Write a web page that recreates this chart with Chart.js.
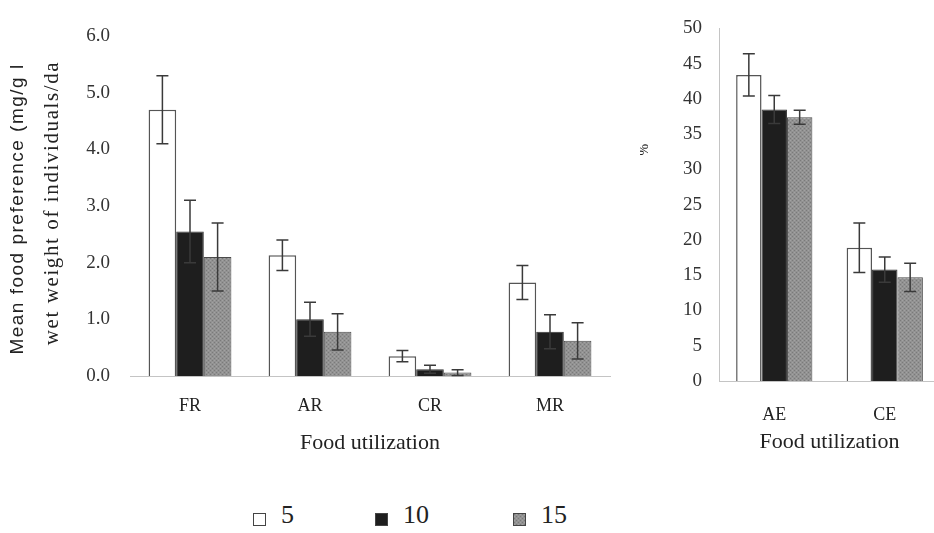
<!DOCTYPE html>
<html>
<head>
<meta charset="utf-8">
<script src="https://cdn.jsdelivr.net/npm/chart.js@4.4.0/dist/chart.umd.min.js"></script>
<style>
  body { margin: 0; background: #fff; overflow: hidden; }
  #wrap { position: relative; width: 934px; height: 533px; overflow: hidden; background: #fff; }
  #left { position: absolute; left: 0; top: 0; }
  #right { position: absolute; left: 640px; top: 0; }
  .legend { position: absolute; top: 500px; font-family: "Liberation Serif", "Times New Roman", serif; font-size: 26px; color: #222; white-space: nowrap; }
  .box { display: inline-block; width: 11px; height: 11px; border: 1px solid #444; margin-right: 15px; vertical-align: -3px; }
</style>
</head>
<body>
<div id="wrap">
  <canvas id="left" width="640" height="470"></canvas>
  <canvas id="right" width="300" height="470"></canvas>
  <div class="legend" style="left:253px"><span class="box" style="background:#fff"></span>5</div>
  <div class="legend" style="left:375px"><span class="box" style="background:#1e1e1e"></span>10</div>
  <div class="legend" style="left:513px"><span class="box" id="box15"></span>15</div>
</div>
<script>
// food preference, left panel
const prefCategories = ['FR', 'AR', 'CR', 'MR'];
const pref5 = [4.7, 2.13, 0.35, 1.65];
const pref10 = [2.55, 1.0, 0.12, 0.78];
const pref15 = [2.1, 0.78, 0.06, 0.62];
const prefErr5 = [0.6, 0.27, 0.1, 0.3];
const prefErr10 = [0.55, 0.3, 0.07, 0.3];
const prefErr15 = [0.6, 0.32, 0.05, 0.32];

// efficiency (%), right panel
const effCategories = ['AE', 'CE'];
const eff5 = [43.4, 18.9];
const eff10 = [38.5, 15.8];
const eff15 = [37.4, 14.7];
const effErr5 = [3.0, 3.5];
const effErr10 = [2.0, 1.8];
const effErr15 = [1.0, 2.0];

const seriesLabels = ['5', '10', '15'];
const serif = '"Liberation Serif", "Times New Roman", serif';

// stippled grey fill for the 15 series
function makePattern() {
    const c = document.createElement('canvas');
    c.width = 4; c.height = 4;
    const g = c.getContext('2d');
    g.fillStyle = '#929292';
    g.fillRect(0, 0, 4, 4);
    g.fillStyle = '#7a7a7a';
    g.fillRect(0, 0, 1, 1);
    g.fillRect(2, 2, 1, 1);
    g.fillStyle = '#a2a2a2';
    g.fillRect(2, 0, 1, 1);
    g.fillRect(0, 2, 1, 1);
    return c;
}
const patCanvas = makePattern();
const stipple = document.getElementById('left').getContext('2d').createPattern(patCanvas, 'repeat');
document.getElementById('box15').style.background = 'url(' + patCanvas.toDataURL() + ')';

const errorBars = {
    id: 'errorBars',
    afterDatasetsDraw(chart, args, opts) {
        const { ctx } = chart;
        const yScale = chart.scales.y;
        ctx.save();
        ctx.strokeStyle = '#3a3a3a';
        ctx.lineWidth = 1.5;
        chart.data.datasets.forEach((ds, i) => {
            const meta = chart.getDatasetMeta(i);
            meta.data.forEach((bar, j) => {
                const v = ds.data[j];
                const e = opts.errors[i][j];
                const top = yScale.getPixelForValue(v + e);
                const bot = yScale.getPixelForValue(Math.max(0, v - e));
                const half = 6;
                ctx.beginPath();
                ctx.moveTo(bar.x, top); ctx.lineTo(bar.x, bot);
                ctx.moveTo(bar.x - half, top); ctx.lineTo(bar.x + half, top);
                ctx.moveTo(bar.x - half, bot); ctx.lineTo(bar.x + half, bot);
                ctx.stroke();
            });
        });
        ctx.restore();
    }
};

// rotated axis captions drawn beside the plot
const sideText = {
    id: 'sideText',
    afterDraw(chart, args, opts) {
        const { ctx, chartArea } = chart;
        const cy = (chartArea.top + chartArea.bottom) / 2;
        ctx.save();
        ctx.fillStyle = '#222';
        ctx.textAlign = 'center';
        ctx.textBaseline = 'middle';
        opts.lines.forEach(l => {
            ctx.save();
            ctx.translate(l.x, cy + l.dy);
            ctx.rotate(-Math.PI / 2);
            ctx.font = l.font;
            ctx.letterSpacing = l.spacing || '0px';
            ctx.fillText(l.text, 0, 0);
            ctx.restore();
        });
        ctx.restore();
    }
};

function makeDatasets(a, b, c) {
    return [
        { label: seriesLabels[0], data: a, backgroundColor: '#ffffff', borderColor: '#555', borderWidth: 1.5 },
        { label: seriesLabels[1], data: b, backgroundColor: '#1e1e1e', borderColor: '#333', borderWidth: 1 },
        { label: seriesLabels[2], data: c, backgroundColor: stipple, borderColor: '#4a4a4a', borderWidth: 1 },
    ];
}

function makeOptions(cfg) {
    return {
        responsive: false,
        animation: false,
        layout: { padding: cfg.padding },
        datasets: { bar: { barPercentage: 1, categoryPercentage: 0.69 } },
        plugins: {
            legend: { display: false },
            tooltip: { enabled: false },
            errorBars: { errors: cfg.errors },
            sideText: { lines: cfg.sideLines },
        },
        scales: {
            x: {
                grid: { display: false, drawTicks: false },
                border: { display: true, color: '#c4c4c4', width: 1 },
                ticks: { font: { family: serif, size: 18 }, color: '#222', padding: cfg.xTickPad },
                title: { display: true, text: 'Food utilization', font: { family: serif, size: 22 }, color: '#222', padding: { top: 0, bottom: cfg.xTitlePad } },
                afterFit: s => { s.height = cfg.xHeight; },
            },
            y: {
                min: 0,
                max: cfg.yMax,
                grid: { display: false, drawTicks: false },
                border: { display: cfg.yBorder, color: '#c4c4c4', width: 1 },
                ticks: { stepSize: cfg.yStep, font: { family: serif, size: 19 }, color: '#333', padding: cfg.yTickPad, callback: cfg.yFormat },
                afterFit: s => { s.width = cfg.yWidth; },
            },
        },
    };
}

new Chart(document.getElementById('left'), {
    type: 'bar',
    data: { labels: prefCategories, datasets: makeDatasets(pref5, pref10, pref15) },
    options: makeOptions({
        padding: { top: 36, right: 30, left: 0, bottom: 0 },
        errors: [prefErr5, prefErr10, prefErr15],
        sideLines: [
            { text: 'Mean food preference (mg/g l', x: 18, dy: 3, font: '19px "Liberation Sans", Arial, sans-serif', spacing: '1.5px' },
            { text: 'wet weight of individuals/da', x: 52, dy: -3, font: '21px "Liberation Serif", serif', spacing: '1.6px' },
        ],
        xTickPad: 19, xTitlePad: 14, xHeight: 94,
        yMax: 6, yStep: 1, yTickPad: 20, yWidth: 130, yBorder: false,
        yFormat: v => v.toFixed(1),
    }),
    plugins: [errorBars, sideText],
});

new Chart(document.getElementById('right'), {
    type: 'bar',
    data: { labels: effCategories, datasets: makeDatasets(eff5, eff10, eff15) },
    options: makeOptions({
        padding: { top: 18, right: 0, left: 0, bottom: 0 },
        errors: [effErr5, effErr10, effErr15],
        sideLines: [
            { text: '%', x: 4, dy: -55, font: '14px "Liberation Serif", serif' },
        ],
        xTickPad: 23, xTitlePad: 15, xHeight: 89,
        yMax: 50, yStep: 5, yTickPad: 17, yWidth: 79, yBorder: true,
        yFormat: v => v,
    }),
    plugins: [errorBars, sideText],
});
</script>
</body>
</html>
